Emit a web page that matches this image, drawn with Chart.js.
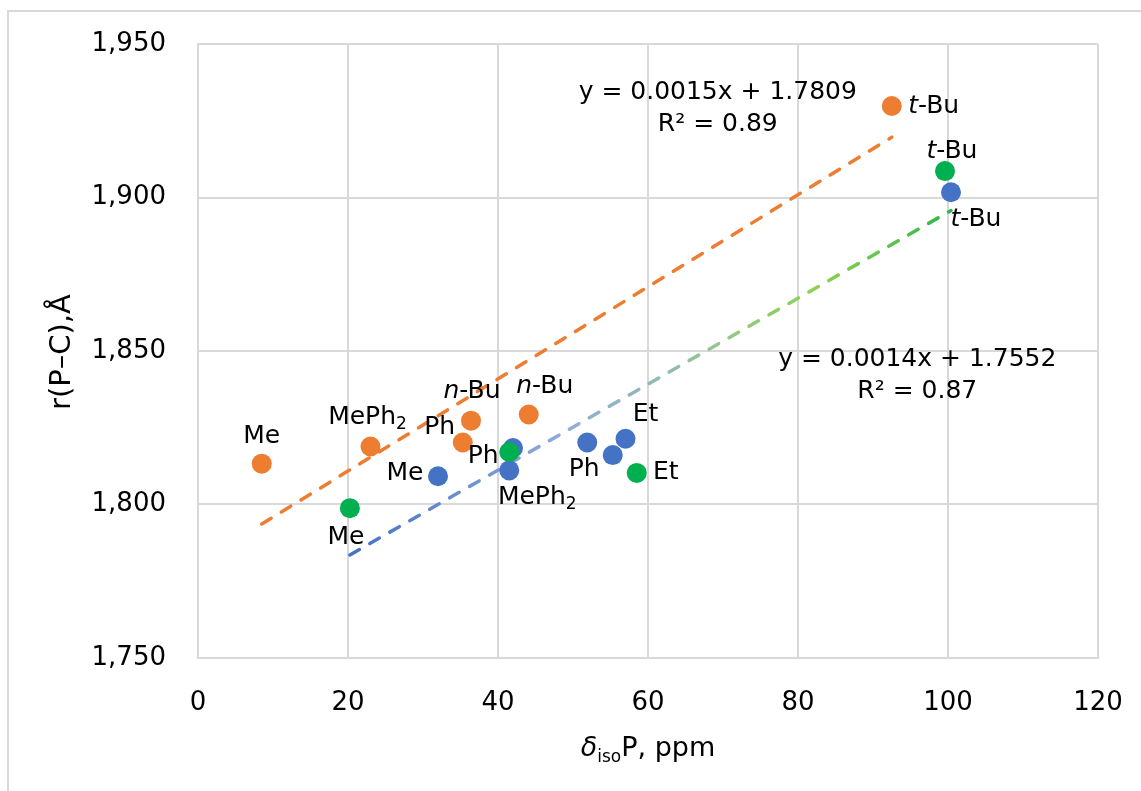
<!DOCTYPE html>
<html>
<head>
<meta charset="utf-8">
<script src="https://cdn.jsdelivr.net/npm/chart.js@4/dist/chart.umd.min.js"></script>
<style>
  html, body { margin: 0; padding: 0; background: #fff; }
  #wrap { position: relative; width: 1141px; height: 791px; overflow: hidden; }
  #frame { position: absolute; left: 7px; top: 10px; width: 1200px; height: 900px;
           border-left: 2px solid #d9d9d9; border-top: 2px solid #d9d9d9; }
  #chart { position: absolute; left: 0; top: 0; }
</style>
</head>
<body>
<div id="wrap">
  <div id="frame"></div>
  <canvas id="chart" width="1141" height="791"></canvas>
</div>
<script>
// values
const orangeX = [8.5, 23.0, 35.3, 36.4, 44.1, 92.5];
const orangeY = [1.8133, 1.8189, 1.8202, 1.8273, 1.8293, 1.9298];
const orangeLabels = ['Me', 'MePh2', 'Ph', 'n-Bu', 'n-Bu', 't-Bu'];

const blueX = [32.0, 41.5, 42.0, 51.9, 55.3, 57.0, 100.4];
const blueY = [1.8092, 1.8111, 1.8184, 1.8202, 1.8161, 1.8214, 1.9017];
const blueLabels = ['Me', 'MePh2', '', 'Ph', '', 'Et', 't-Bu'];

const greenX = [20.25, 41.5, 58.5, 99.6];
const greenY = [1.7988, 1.8171, 1.8103, 1.9086];
const greenLabels = ['Me', 'Ph', 'Et', 't-Bu'];

// trendlines as printed on the chart
const fitSlope = [0.0015, 0.0014];
const fitIntercept = [1.7809, 1.7552];
const fitText = [['y = 0.0015x + 1.7809', 'R² = 0.89'], ['y = 0.0014x + 1.7552', 'R² = 0.87']];

const xTicks = [0, 20, 40, 60, 80, 100, 120];
const yTicks = [1.75, 1.80, 1.85, 1.90, 1.95];

// label placement (pixel offset of label centre from point)
const orangeOffsets = [[0, -27], [-3, -29], [-23, -15], [1, -29], [16, -28], [42, 0]];
const blueOffsets = [[-33, -3], [28, 27], [0, 0], [-3, 27], [0, 0], [20, -24], [25, 27]];
const greenOffsets = [[-4, 29], [-26, 4], [29, 0], [7, -20]];
// where the equations sit, in data units
const fitTextPos = [[69.3, 1.9343], [95.9, 1.8472]];

const FONT = "'DejaVu Sans', Verdana, sans-serif";
const ORANGE = '#ED7D31', BLUE = '#4472C4', GREEN = '#00B050';

const toPoints = (xs, ys) => xs.map((x, i) => ({ x: x, y: ys[i] }));

function fitLine(k, xs) {
  const lo = Math.min(...xs), hi = Math.max(...xs);
  return [lo, hi].map(x => ({ x: x, y: fitSlope[k] * x + fitIntercept[k] }));
}

const fitA = fitLine(0, orangeX);
const fitB = fitLine(1, blueX.concat(greenX));

function gradientLine(ctx) {
  const chart = ctx.chart;
  if (!chart.chartArea) return BLUE;
  const sx = chart.scales.x, sy = chart.scales.y;
  const g = chart.ctx.createLinearGradient(
    sx.getPixelForValue(fitB[0].x), sy.getPixelForValue(fitB[0].y),
    sx.getPixelForValue(fitB[1].x), sy.getPixelForValue(fitB[1].y));
  g.addColorStop(0, '#4472C4');
  g.addColorStop(0.35, '#8FAADC');
  g.addColorStop(0.5, '#93B8B8');
  g.addColorStop(0.62, '#93C88A');
  g.addColorStop(0.78, '#8DD14F');
  g.addColorStop(1, '#2EB84A');
  return g;
}

// text with italic prefix (n-, t-) and trailing subscript digit
function drawRich(c, text, cx, cy, size) {
  const parts = [];
  let m = text.match(/^([nt])(-.*)$/);
  if (m) { parts.push({ t: m[1], it: true }); text = m[2]; }
  m = text.match(/^(.*?)(\d)$/);
  if (m) { parts.push({ t: m[1] }); parts.push({ t: m[2], sub: true }); }
  else parts.push({ t: text });
  let w = 0;
  parts.forEach(p => {
    p.font = (p.it ? 'italic ' : '') + (p.sub ? Math.round(size * 0.68) : size) + 'px ' + FONT;
    c.font = p.font;
    p.w = c.measureText(p.t).width;
    w += p.w;
  });
  let x = cx - w / 2;
  c.textAlign = 'left';
  c.textBaseline = 'middle';
  parts.forEach(p => {
    c.font = p.font;
    c.fillText(p.t, x, cy + (p.sub ? size * 0.28 : 0));
    x += p.w;
  });
}

const annotations = {
  id: 'annotations',
  afterDatasetsDraw(chart) {
    const c = chart.ctx, sx = chart.scales.x, sy = chart.scales.y;
    c.save();
    c.fillStyle = '#000';
    chart.data.datasets.forEach((ds, di) => {
      if (!ds.pointLabels) return;
      const meta = chart.getDatasetMeta(di);
      meta.data.forEach((el, i) => {
        const txt = ds.pointLabels[i];
        if (!txt) return;
        const off = ds.labelOffsets[i];
        drawRich(c, txt, el.x + off[0], el.y + off[1], 25);
      });
    });
    // equations
    c.font = '25px ' + FONT;
    c.textAlign = 'center';
    c.textBaseline = 'middle';
    fitText.forEach((lines, k) => {
      const px = sx.getPixelForValue(fitTextPos[k][0]);
      const py = sy.getPixelForValue(fitTextPos[k][1]);
      c.fillText(lines[0], px, py);
      c.fillText(lines[1], px, py + 32);
    });
    // axis titles
    c.save();
    c.translate(62, 352);
    c.rotate(-Math.PI / 2);
    c.font = '29px ' + FONT;
    c.textAlign = 'center';
    c.fillText('r(P–C),Å', 0, 0);
    c.restore();

    const segs = [
      { t: 'δ', f: 'italic 27px ' + FONT, dy: 0 },
      { t: 'iso', f: '17px ' + FONT, dy: 6 },
      { t: 'P, ppm', f: '27px ' + FONT, dy: 0 }
    ];
    let w = 0;
    segs.forEach(s => { c.font = s.f; s.w = c.measureText(s.t).width; w += s.w; });
    let x = 648 - w / 2;
    c.textAlign = 'left';
    c.textBaseline = 'alphabetic';
    segs.forEach(s => { c.font = s.f; c.fillText(s.t, x, 756 + s.dy); x += s.w; });
    c.restore();
  }
};

const ctx = document.getElementById('chart').getContext('2d');
const chart = new Chart(ctx, {
  type: 'scatter',
  data: {
    datasets: [
      {
        data: toPoints(orangeX, orangeY), pointLabels: orangeLabels, labelOffsets: orangeOffsets,
        backgroundColor: ORANGE, pointRadius: 10, pointBorderWidth: 0, order: 3
      },
      {
        data: toPoints(blueX, blueY), pointLabels: blueLabels, labelOffsets: blueOffsets,
        backgroundColor: BLUE, pointRadius: 10, pointBorderWidth: 0, order: 2
      },
      {
        data: toPoints(greenX, greenY), pointLabels: greenLabels, labelOffsets: greenOffsets,
        backgroundColor: GREEN, pointRadius: 10, pointBorderWidth: 0, order: 1
      },
      {
        type: 'line', data: fitA, showLine: true, pointRadius: 0, fill: false,
        borderColor: ORANGE, borderWidth: 3.5, borderDash: [11, 12], borderCapStyle: 'round', order: 10
      },
      {
        type: 'line', data: fitB, showLine: true, pointRadius: 0, fill: false,
        borderColor: gradientLine, borderWidth: 3.5, borderDash: [11, 12], borderCapStyle: 'round', order: 11
      }
    ]
  },
  options: {
    responsive: false,
    animation: false,
    layout: { padding: { left: 0, right: 43, top: 44, bottom: 0 } },
    plugins: { legend: { display: false }, tooltip: { enabled: false } },
    scales: {
      x: {
        type: 'linear', min: xTicks[0], max: xTicks[xTicks.length - 1],
        afterBuildTicks: s => { s.ticks = xTicks.map(v => ({ value: v })); },
        afterFit: s => { s.height = 133; s.paddingLeft = 0; s.paddingRight = 0; },
        ticks: { padding: 30, color: '#000', font: { family: FONT, size: 26 } },
        grid: { color: '#d9d9d9', lineWidth: 2, drawTicks: false },
        border: { color: '#d9d9d9', width: 2 }
      },
      y: {
        type: 'linear', min: yTicks[0], max: yTicks[yTicks.length - 1],
        afterBuildTicks: s => { s.ticks = yTicks.map(v => ({ value: v })); },
        afterFit: s => { s.width = 198; s.paddingTop = 0; s.paddingBottom = 0; },
        ticks: {
          padding: 32, color: '#000', font: { family: FONT, size: 26 },
          callback: v => v.toFixed(3).replace('.', ',')
        },
        grid: { color: '#d9d9d9', lineWidth: 2, drawTicks: false },
        border: { color: '#d9d9d9', width: 2 }
      }
    }
  },
  plugins: [annotations]
});
</script>
</body>
</html>
